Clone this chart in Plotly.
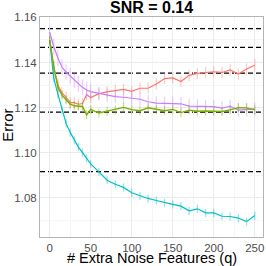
import plotly.graph_objects as go

q = [0, 5, 10, 15, 20, 25, 30, 35, 40, 45, 50, 60, 70, 80, 90, 100, 110, 120, 130, 140,
     150, 160, 170, 180, 190, 200, 210, 220, 230, 240, 250]

red = [1.150, 1.138, 1.130, 1.1265, 1.1245, 1.1222, 1.1222, 1.1215, 1.1218, 1.1258, 1.1245,
       1.1262, 1.1270, 1.1277, 1.1281, 1.1272, 1.1286, 1.1286, 1.1305, 1.1329, 1.1332,
       1.1316, 1.1343, 1.1352, 1.1355, 1.1359, 1.1356, 1.1367, 1.1349, 1.1371, 1.1388]
red_err = [0.002, 0.003, 0.003, 0.0025, 0.0025, 0.0025, 0.0025, 0.0025, 0.0025, 0.0025, 0.0025,
           0.0025, 0.0025, 0.0025, 0.0025, 0.0025, 0.0025, 0.0025, 0.0025, 0.0025, 0.0025,
           0.0025, 0.0025, 0.0025, 0.0025, 0.0025, 0.0025, 0.0025, 0.0025, 0.0025, 0.0028]

green = [1.150, 1.138, 1.129, 1.1255, 1.1235, 1.1215, 1.1208, 1.1207, 1.1205, 1.1168, 1.1192,
         1.1176, 1.1184, 1.1191, 1.1201, 1.1191, 1.1186, 1.1199, 1.1191, 1.1186, 1.1192,
         1.1178, 1.1189, 1.1184, 1.1185, 1.1184, 1.1183, 1.1190, 1.1200, 1.1199, 1.1190]
green_err = [0.002, 0.0025, 0.0025, 0.002, 0.002, 0.002, 0.002, 0.002, 0.002, 0.002, 0.002,
             0.002, 0.002, 0.002, 0.002, 0.002, 0.002, 0.002, 0.002, 0.002, 0.002,
             0.002, 0.002, 0.002, 0.002, 0.002, 0.002, 0.002, 0.002, 0.002, 0.002]

cyan = [1.150, 1.133, 1.126, 1.119, 1.113, 1.109, 1.1055, 1.1025, 1.100, 1.0975, 1.095,
        1.0915, 1.0878, 1.0860, 1.0846, 1.0822, 1.0808, 1.0797, 1.0788, 1.0778, 1.0771,
        1.0763, 1.0742, 1.0751, 1.0733, 1.0733, 1.0718, 1.0717, 1.0710, 1.0694, 1.0721]
cyan_err = [0.0015, 0.0018, 0.0018, 0.0018, 0.0018, 0.0018, 0.0018, 0.0018, 0.0018, 0.0018, 0.0018,
            0.0018, 0.0018, 0.0018, 0.0018, 0.0018, 0.0018, 0.0018, 0.0018, 0.0018, 0.0018,
            0.0018, 0.0018, 0.0018, 0.0018, 0.0018, 0.0018, 0.0018, 0.0018, 0.0018, 0.0018]

purple = [1.1535, 1.147, 1.142, 1.138, 1.1357, 1.134, 1.1323, 1.1305, 1.1290, 1.1278, 1.1271,
          1.1263, 1.1255, 1.1249, 1.1246, 1.1242, 1.1237, 1.1226, 1.1220, 1.1219, 1.1219,
          1.1217, 1.1207, 1.1207, 1.1205, 1.1204, 1.1198, 1.1206, 1.1189, 1.1191, 1.1194]
purple_err = [0.0025, 0.0035, 0.0035, 0.0035, 0.0035, 0.0035, 0.0035, 0.0035, 0.0035, 0.0035, 0.0035,
              0.003, 0.003, 0.003, 0.003, 0.003, 0.003, 0.003, 0.003, 0.003, 0.003,
              0.003, 0.003, 0.003, 0.003, 0.003, 0.003, 0.003, 0.003, 0.003, 0.003]

ref_lines = [1.1550, 1.1467, 1.1353, 1.1180, 1.0916]

x_ticks = [0, 50, 100, 150, 200, 250]
y_ticks = [1.08, 1.10, 1.12, 1.14, 1.16]

series = [
    (red, red_err, "#F8766D", "rgba(248,118,109,0.35)", 1.2),
    (purple, purple_err, "#C77CFF", "rgba(199,124,255,0.35)", 1.2),
    (cyan, cyan_err, "#00BFC4", "rgba(0,191,196,0.4)", 1.2),
    (green, green_err, "#7CAE00", "rgba(124,174,0,0.4)", 1.4),
]

fig = go.Figure()
for v in ref_lines:
    fig.add_hline(y=v, line=dict(color="black", width=1.2, dash="5px,3px"), layer="below")

for ys, es, col, ecol, w in series:
    fig.add_trace(go.Scatter(
        x=q, y=ys, mode="lines",
        line=dict(color=col, width=w),
        error_y=dict(type="data", array=es, visible=True, color=ecol, width=0, thickness=1.3),
        showlegend=False, hoverinfo="skip"))

font = "Liberation Sans, Arial, sans-serif"
fig.update_layout(
    width=266, height=266,
    margin=dict(l=40, r=3, t=17, b=29),
    paper_bgcolor="white", plot_bgcolor="white",
    font=dict(family=font, color="black"),
    showlegend=False,
    annotations=[
        dict(text="<b>SNR = 0.14</b>", xref="paper", yref="paper", x=0.502, y=1.043,
             xanchor="center", yanchor="middle", showarrow=False, borderpad=0,
             font=dict(size=16, family=font, color="black")),
        dict(text="# Extra Noise Features (q)", xref="paper", yref="paper", x=0.502, y=-0.094,
             xanchor="center", yanchor="middle", showarrow=False, borderpad=0,
             font=dict(size=14.5, family=font, color="black")),
        dict(text="Error", xref="paper", yref="paper", x=-0.1435, y=0.51,
             xanchor="center", yanchor="middle", textangle=-90, showarrow=False, borderpad=0,
             font=dict(size=15, family=font, color="black")),
    ],
)
fig.update_xaxes(
    range=[-11.8, 260], tickvals=x_ticks, ticktext=[str(t) for t in x_ticks],
    showgrid=True, gridcolor="#EBEBEB", gridwidth=1,
    minor=dict(tickvals=[25, 75, 125, 175, 225], showgrid=True, gridcolor="#F5F5F5", gridwidth=0.6),
    showline=True, linecolor="#B3B3B3", linewidth=1, mirror=True,
    ticks="", tickfont=dict(size=11.5, color="#4D4D4D", family=font),
    zeroline=False,
)
fig.update_yaxes(
    range=[1.0626, 1.1602], tickvals=y_ticks, ticktext=["%.2f" % t for t in y_ticks],
    showgrid=True, gridcolor="#EBEBEB", gridwidth=1,
    minor=dict(tickvals=[1.07, 1.09, 1.11, 1.13, 1.15], showgrid=True, gridcolor="#F5F5F5", gridwidth=0.6),
    showline=True, linecolor="#B3B3B3", linewidth=1, mirror=True,
    ticks="", tickfont=dict(size=11.5, color="#4D4D4D", family=font),
    zeroline=False,
)

fig.write_html("out.html", config={"displayModeBar": False},
               post_script="document.body.style.margin='0';")
